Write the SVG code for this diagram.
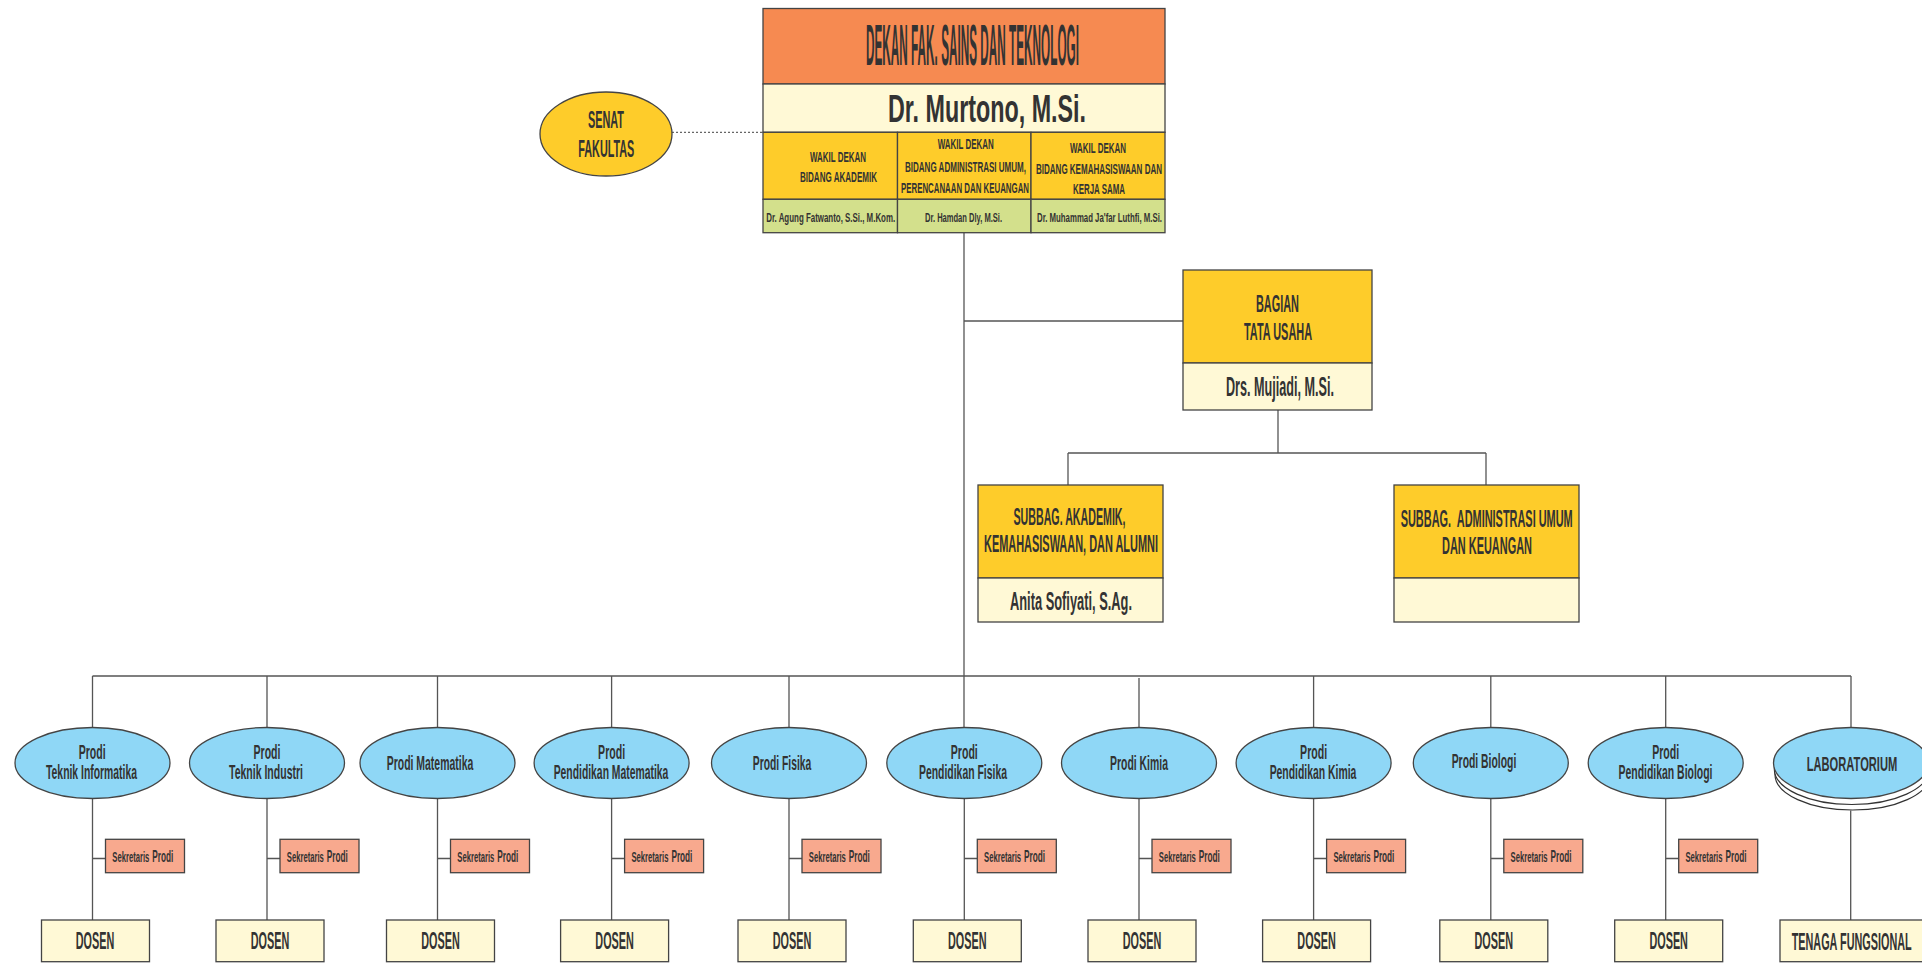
<svg xmlns="http://www.w3.org/2000/svg" width="1922" height="963" viewBox="0 0 1922 963">
<style>
text{font-family:"Liberation Sans Narrow","Liberation Sans",Arial,sans-serif;font-weight:bold;fill:#333;text-anchor:middle}
text.s{text-anchor:start}
.ln{stroke:#555;stroke-width:1.3;fill:none}
.dot{stroke:#666;stroke-width:1.3;stroke-dasharray:2 2;fill:none}
.bx{stroke:#444;stroke-width:1.3}
.or{fill:#F68A51}.cr{fill:#FFF9D6}.ye{fill:#FECC2A}.gr{fill:#D3E08C}.bl{fill:#8FD7F6}.sa{fill:#F8A98E}
.f13{font-size:13px}.f14{font-size:14.5px}.f19{font-size:20px}.f22{font-size:23px}.f23{font-size:24px}
.sk{font-size:15px}.sp{font-size:17px}
</style>
<g id="connectors">
<line class="ln" x1="964" y1="233" x2="964" y2="728"/>
<line class="ln" x1="964" y1="321" x2="1183" y2="321"/>
<line class="ln" x1="1278" y1="410" x2="1278" y2="453"/>
<line class="ln" x1="1068" y1="453" x2="1486" y2="453"/>
<line class="ln" x1="1068" y1="453" x2="1068" y2="485"/>
<line class="ln" x1="1486" y1="453" x2="1486" y2="485"/>
<line class="dot" x1="672" y1="132.3" x2="763" y2="132.3"/>
<line class="ln" x1="92.5" y1="676" x2="1851" y2="676"/>
<path class="ln" d="M92.5 676V728M92.5 799V920M92.5 858.5H105.5"/>
<path class="ln" d="M267 676V728M267 799V920M267 858.5H280"/>
<path class="ln" d="M437.5 676V728M437.5 799V920M437.5 858.5H450.5"/>
<path class="ln" d="M611.6 676V728M611.6 799V920M611.6 858.5H624.6"/>
<path class="ln" d="M789 676V728M789 799V920M789 858.5H802"/>
<path class="ln" d="M964.3 799V920M964.3 858.5H977.3"/>
<path class="ln" d="M1139 678V728M1139 799V920M1139 858.5H1152"/>
<path class="ln" d="M1313.6 676V728M1313.6 799V920M1313.6 858.5H1326.6"/>
<path class="ln" d="M1490.8 676V728M1490.8 799V920M1490.8 858.5H1503.8"/>
<path class="ln" d="M1665.7 676V728M1665.7 799V920M1665.7 858.5H1678.7"/>
<path class="ln" d="M1851 676V728M1850.7 810.5V920"/>
</g>
<g id="dekan">
<rect class="bx or" x="763" y="8.5" width="402" height="75.5"/>
<rect class="bx cr" x="763" y="84" width="402" height="48.3"/>
<rect class="bx ye" x="763" y="132.3" width="134.5" height="67"/>
<rect class="bx ye" x="897.5" y="132.3" width="133.5" height="67"/>
<rect class="bx ye" x="1031" y="132.3" width="134" height="67"/>
<rect class="bx gr" x="763" y="199.3" width="134.5" height="33.4"/>
<rect class="bx gr" x="897.5" y="199.3" width="133.5" height="33.4"/>
<rect class="bx gr" x="1031" y="199.3" width="134" height="33.4"/>
<text x="972.5" y="64.5" font-size="57" textLength="213" lengthAdjust="spacingAndGlyphs">DEKAN FAK. SAINS DAN TEKNOLOGI</text>
<text x="987" y="122" font-size="38" textLength="198" lengthAdjust="spacingAndGlyphs">Dr. Murtono, M.Si.</text>
<text class="f14" x="838" y="161.7" textLength="56" lengthAdjust="spacingAndGlyphs">WAKIL DEKAN</text>
<text class="f14" x="838.5" y="181.7" textLength="77" lengthAdjust="spacingAndGlyphs">BIDANG AKADEMIK</text>
<text class="f14" x="965.7" y="149.3" textLength="56" lengthAdjust="spacingAndGlyphs">WAKIL DEKAN</text>
<text class="f14" x="965.5" y="171.7" textLength="121" lengthAdjust="spacingAndGlyphs">BIDANG ADMINISTRASI UMUM,</text>
<text class="f14" x="965" y="192.7" textLength="128" lengthAdjust="spacingAndGlyphs">PERENCANAAN DAN KEUANGAN</text>
<text class="f14" x="1098" y="153.3" textLength="56" lengthAdjust="spacingAndGlyphs">WAKIL DEKAN</text>
<text class="f14" x="1099" y="174" textLength="126" lengthAdjust="spacingAndGlyphs">BIDANG KEMAHASISWAAN DAN</text>
<text class="f14" x="1099" y="194" textLength="52" lengthAdjust="spacingAndGlyphs">KERJA SAMA</text>
<text class="f13" x="830.7" y="221.7" textLength="129" lengthAdjust="spacingAndGlyphs">Dr. Agung Fatwanto, S.Si., M.Kom.</text>
<text class="f13" x="963.5" y="221.7" textLength="77" lengthAdjust="spacingAndGlyphs">Dr. Hamdan Dly, M.Si.</text>
<text class="f13" x="1099.5" y="221.7" textLength="125" lengthAdjust="spacingAndGlyphs">Dr. Muhammad Ja'far Luthfi, M.Si.</text>
</g>
<g id="senat">
<ellipse class="bx ye" cx="606" cy="134" rx="66" ry="42"/>
<text class="f23" x="606" y="128.3" textLength="36" lengthAdjust="spacingAndGlyphs">SENAT</text>
<text class="f23" x="606.3" y="156.7" textLength="56" lengthAdjust="spacingAndGlyphs">FAKULTAS</text>
</g>
<g id="bagian">
<rect class="bx ye" x="1183" y="270" width="189" height="93"/>
<rect class="bx cr" x="1183" y="363" width="189" height="47"/>
<text class="f23" x="1277.5" y="311.7" textLength="43" lengthAdjust="spacingAndGlyphs">BAGIAN</text>
<text class="f23" x="1278" y="340" textLength="68" lengthAdjust="spacingAndGlyphs">TATA USAHA</text>
<text x="1280" y="395.7" font-size="27" textLength="108" lengthAdjust="spacingAndGlyphs">Drs. Mujiadi, M.Si.</text>
</g>
<g id="subbag-akademik">
<rect class="bx ye" x="978" y="485" width="185" height="93"/>
<rect class="bx cr" x="978" y="578" width="185" height="44"/>
<text class="f23" x="1069.5" y="525" textLength="112" lengthAdjust="spacingAndGlyphs">SUBBAG. AKADEMIK,</text>
<text class="f23" x="1071" y="552.3" textLength="174" lengthAdjust="spacingAndGlyphs">KEMAHASISWAAN, DAN ALUMNI</text>
<text x="1071" y="610" font-size="25" textLength="122" lengthAdjust="spacingAndGlyphs">Anita Sofiyati, S.Ag.</text>
</g>
<g id="subbag-admin">
<rect class="bx ye" x="1394" y="485" width="185" height="93"/>
<rect class="bx cr" x="1394" y="578" width="185" height="44"/>
<text class="f23" x="1486.7" y="526.7" textLength="172" lengthAdjust="spacingAndGlyphs" xml:space="preserve">SUBBAG.  ADMINISTRASI UMUM</text>
<text class="f23" x="1487" y="554" textLength="90" lengthAdjust="spacingAndGlyphs">DAN KEUANGAN</text>
</g>
<g id="prodi-ti">
<ellipse class="bx bl" cx="92.5" cy="763" rx="77.5" ry="35.5"/>
<text class="f19" x="92.2" y="759" textLength="27" lengthAdjust="spacingAndGlyphs">Prodi</text>
<text class="f19" x="91.5" y="779.3" textLength="91" lengthAdjust="spacingAndGlyphs">Teknik Informatika</text>
<rect class="bx sa" x="105.5" y="839.3" width="79" height="33.4"/>
<text class="s" y="861.7"><tspan class="sk" x="112.3" textLength="37" lengthAdjust="spacingAndGlyphs">Sekretaris</tspan><tspan class="sp" x="152.3" textLength="21" lengthAdjust="spacingAndGlyphs">Prodi</tspan></text>
<rect class="bx cr" x="41.5" y="920" width="108" height="41.7"/>
<text class="f22" x="95" y="949.3" textLength="38.5" lengthAdjust="spacingAndGlyphs">DOSEN</text>
</g>
<g id="prodi-tind">
<ellipse class="bx bl" cx="267" cy="763" rx="77.5" ry="35.5"/>
<text class="f19" x="267" y="759" textLength="27" lengthAdjust="spacingAndGlyphs">Prodi</text>
<text class="f19" x="266" y="779.3" textLength="74" lengthAdjust="spacingAndGlyphs">Teknik Industri</text>
<rect class="bx sa" x="280" y="839.3" width="79" height="33.4"/>
<text class="s" y="861.7"><tspan class="sk" x="286.8" textLength="37" lengthAdjust="spacingAndGlyphs">Sekretaris</tspan><tspan class="sp" x="326.8" textLength="21" lengthAdjust="spacingAndGlyphs">Prodi</tspan></text>
<rect class="bx cr" x="216" y="920" width="108" height="41.7"/>
<text class="f22" x="270" y="949.3" textLength="38.5" lengthAdjust="spacingAndGlyphs">DOSEN</text>
</g>
<g id="prodi-mat">
<ellipse class="bx bl" cx="437.5" cy="763" rx="77.5" ry="35.5"/>
<text class="f19" x="430" y="770" textLength="86.6" lengthAdjust="spacingAndGlyphs">Prodi Matematika</text>
<rect class="bx sa" x="450.5" y="839.3" width="79" height="33.4"/>
<text class="s" y="861.7"><tspan class="sk" x="457.3" textLength="37" lengthAdjust="spacingAndGlyphs">Sekretaris</tspan><tspan class="sp" x="497.3" textLength="21" lengthAdjust="spacingAndGlyphs">Prodi</tspan></text>
<rect class="bx cr" x="386.5" y="920" width="108" height="41.7"/>
<text class="f22" x="440.5" y="949.3" textLength="38.5" lengthAdjust="spacingAndGlyphs">DOSEN</text>
</g>
<g id="prodi-pmat">
<ellipse class="bx bl" cx="611.6" cy="763" rx="77.5" ry="35.5"/>
<text class="f19" x="611.6" y="759" textLength="27" lengthAdjust="spacingAndGlyphs">Prodi</text>
<text class="f19" x="611" y="779.3" textLength="114.7" lengthAdjust="spacingAndGlyphs">Pendidikan Matematika</text>
<rect class="bx sa" x="624.6" y="839.3" width="79" height="33.4"/>
<text class="s" y="861.7"><tspan class="sk" x="631.4" textLength="37" lengthAdjust="spacingAndGlyphs">Sekretaris</tspan><tspan class="sp" x="671.4" textLength="21" lengthAdjust="spacingAndGlyphs">Prodi</tspan></text>
<rect class="bx cr" x="560.6" y="920" width="108" height="41.7"/>
<text class="f22" x="614.6" y="949.3" textLength="38.5" lengthAdjust="spacingAndGlyphs">DOSEN</text>
</g>
<g id="prodi-fis">
<ellipse class="bx bl" cx="789" cy="763" rx="77.5" ry="35.5"/>
<text class="f19" x="782" y="770" textLength="58.5" lengthAdjust="spacingAndGlyphs">Prodi Fisika</text>
<rect class="bx sa" x="802" y="839.3" width="79" height="33.4"/>
<text class="s" y="861.7"><tspan class="sk" x="808.8" textLength="37" lengthAdjust="spacingAndGlyphs">Sekretaris</tspan><tspan class="sp" x="848.8" textLength="21" lengthAdjust="spacingAndGlyphs">Prodi</tspan></text>
<rect class="bx cr" x="738" y="920" width="108" height="41.7"/>
<text class="f22" x="792" y="949.3" textLength="38.5" lengthAdjust="spacingAndGlyphs">DOSEN</text>
</g>
<g id="prodi-pfis">
<ellipse class="bx bl" cx="964.3" cy="763" rx="77.5" ry="35.5"/>
<text class="f19" x="964.3" y="759" textLength="27" lengthAdjust="spacingAndGlyphs">Prodi</text>
<text class="f19" x="963" y="779.3" textLength="88" lengthAdjust="spacingAndGlyphs">Pendidikan Fisika</text>
<rect class="bx sa" x="977.3" y="839.3" width="79" height="33.4"/>
<text class="s" y="861.7"><tspan class="sk" x="984.1" textLength="37" lengthAdjust="spacingAndGlyphs">Sekretaris</tspan><tspan class="sp" x="1024.1" textLength="21" lengthAdjust="spacingAndGlyphs">Prodi</tspan></text>
<rect class="bx cr" x="913.3" y="920" width="108" height="41.7"/>
<text class="f22" x="967.3" y="949.3" textLength="38.5" lengthAdjust="spacingAndGlyphs">DOSEN</text>
</g>
<g id="prodi-kim">
<ellipse class="bx bl" cx="1139" cy="763" rx="77.5" ry="35.5"/>
<text class="f19" x="1139" y="770" textLength="58" lengthAdjust="spacingAndGlyphs">Prodi Kimia</text>
<rect class="bx sa" x="1152" y="839.3" width="79" height="33.4"/>
<text class="s" y="861.7"><tspan class="sk" x="1158.8" textLength="37" lengthAdjust="spacingAndGlyphs">Sekretaris</tspan><tspan class="sp" x="1198.8" textLength="21" lengthAdjust="spacingAndGlyphs">Prodi</tspan></text>
<rect class="bx cr" x="1088" y="920" width="108" height="41.7"/>
<text class="f22" x="1142" y="949.3" textLength="38.5" lengthAdjust="spacingAndGlyphs">DOSEN</text>
</g>
<g id="prodi-pkim">
<ellipse class="bx bl" cx="1313.6" cy="763" rx="77.5" ry="35.5"/>
<text class="f19" x="1313.6" y="759" textLength="27" lengthAdjust="spacingAndGlyphs">Prodi</text>
<text class="f19" x="1313" y="779.3" textLength="86.7" lengthAdjust="spacingAndGlyphs">Pendidikan Kimia</text>
<rect class="bx sa" x="1326.6" y="839.3" width="79" height="33.4"/>
<text class="s" y="861.7"><tspan class="sk" x="1333.4" textLength="37" lengthAdjust="spacingAndGlyphs">Sekretaris</tspan><tspan class="sp" x="1373.4" textLength="21" lengthAdjust="spacingAndGlyphs">Prodi</tspan></text>
<rect class="bx cr" x="1262.6" y="920" width="108" height="41.7"/>
<text class="f22" x="1316.6" y="949.3" textLength="38.5" lengthAdjust="spacingAndGlyphs">DOSEN</text>
</g>
<g id="prodi-bio">
<ellipse class="bx bl" cx="1490.8" cy="763" rx="77.5" ry="35.5"/>
<text class="f19" x="1484" y="768" textLength="64.7" lengthAdjust="spacingAndGlyphs">Prodi Biologi</text>
<rect class="bx sa" x="1503.8" y="839.3" width="79" height="33.4"/>
<text class="s" y="861.7"><tspan class="sk" x="1510.6" textLength="37" lengthAdjust="spacingAndGlyphs">Sekretaris</tspan><tspan class="sp" x="1550.6" textLength="21" lengthAdjust="spacingAndGlyphs">Prodi</tspan></text>
<rect class="bx cr" x="1439.8" y="920" width="108" height="41.7"/>
<text class="f22" x="1493.8" y="949.3" textLength="38.5" lengthAdjust="spacingAndGlyphs">DOSEN</text>
</g>
<g id="prodi-pbio">
<ellipse class="bx bl" cx="1665.7" cy="763" rx="77.5" ry="35.5"/>
<text class="f19" x="1665.7" y="759" textLength="27" lengthAdjust="spacingAndGlyphs">Prodi</text>
<text class="f19" x="1665.5" y="779.3" textLength="94" lengthAdjust="spacingAndGlyphs">Pendidikan Biologi</text>
<rect class="bx sa" x="1678.7" y="839.3" width="79" height="33.4"/>
<text class="s" y="861.7"><tspan class="sk" x="1685.5" textLength="37" lengthAdjust="spacingAndGlyphs">Sekretaris</tspan><tspan class="sp" x="1725.5" textLength="21" lengthAdjust="spacingAndGlyphs">Prodi</tspan></text>
<rect class="bx cr" x="1614.7" y="920" width="108" height="41.7"/>
<text class="f22" x="1668.7" y="949.3" textLength="38.5" lengthAdjust="spacingAndGlyphs">DOSEN</text>
</g>
<g id="laboratorium">
<ellipse cx="1852.5" cy="774.5" rx="77.5" ry="35.5" fill="#fff" stroke="#333" stroke-width="1.2"/>
<ellipse cx="1851.8" cy="769" rx="77.5" ry="35.5" fill="#fff" stroke="#333" stroke-width="1.2"/>
<ellipse class="bx bl" cx="1851" cy="763" rx="77.5" ry="35.5"/>
<text class="f19" x="1852" y="770.5" textLength="90.6" lengthAdjust="spacingAndGlyphs">LABORATORIUM</text>
<rect class="bx cr" x="1780" y="920" width="145" height="41.7"/>
<text x="1851.7" y="950" font-size="23" textLength="120" lengthAdjust="spacingAndGlyphs">TENAGA FUNGSIONAL</text>
</g>
</svg>
